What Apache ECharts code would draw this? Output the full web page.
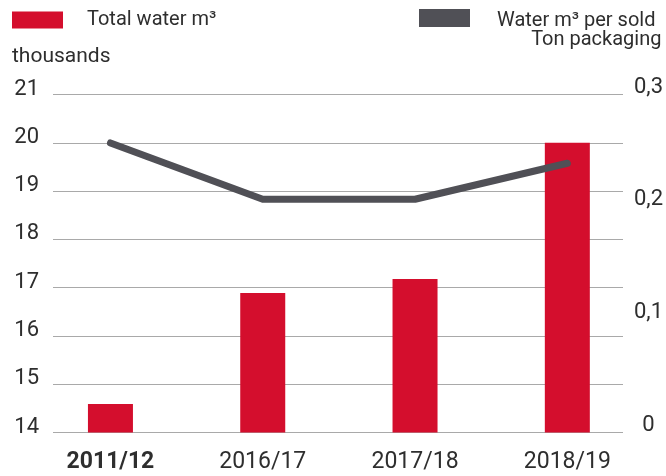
<!DOCTYPE html>
<html>
<head>
<meta charset="utf-8">
<script src="https://cdn.jsdelivr.net/npm/echarts@6/dist/echarts.min.js"></script>
<style>
html,body{margin:0;padding:0;background:#fff;}
#chart{width:666px;height:476px;}
</style>
</head>
<body>
<div id="chart"></div>
<script>
const categories = ['2011/12', '2016/17', '2017/18', '2018/19'];
const totalWater = [14.59, 16.89, 17.18, 20.0];
const waterPerTon = [0.257, 0.207, 0.207, 0.239];
const leftTicks = {min: 14, max: 21, interval: 1};
const rightTicks = {min: 0, max: 0.3, interval: 0.1};
const barName = 'Total water m³';
const lineName = 'Water m³ per sold Ton packaging';

const RED = '#d40e2d';
const GRAY = '#505056';
const TXT = '#2e2e2e';
const FONT = 'Roboto';

const chart = echarts.init(document.getElementById('chart'), null, {renderer: 'canvas'});
chart.setOption({
  animation: false,
  backgroundColor: '#fff',
  textStyle: {fontFamily: FONT, color: TXT},
  legend: [
    {
      data: [{name: barName, icon: 'rect'}],
      left: 12, top: 10, padding: 0,
      itemWidth: 51, itemHeight: 17,
      selectedMode: false,
      textStyle: {fontFamily: FONT, fontSize: 20, color: TXT, padding: [0, 0, 0, 19]}
    },
    {
      data: [{name: lineName, icon: 'rect', itemStyle: {color: GRAY}}],
      left: 419, top: 9, padding: 0,
      itemWidth: 51, itemHeight: 18,
      selectedMode: false,
      formatter: function () { return '{a|Water m³ per sold}\n{b|Ton packaging}'; },
      textStyle: {
        fontFamily: FONT, fontSize: 20, color: TXT, padding: [24, 0, 0, 22],
        rich: {
          a: {fontFamily: FONT, fontSize: 20, color: TXT, lineHeight: 19, align: 'right', padding: [0, 6, 0, 0]},
          b: {fontFamily: FONT, fontSize: 20, color: TXT, lineHeight: 19, align: 'right'}
        }
      }
    }
  ],
  graphic: [
    {type: 'text', left: 12, top: 46, style: {text: 'thousands', font: '21px Roboto', fill: TXT}}
  ],
  grid: [
    {left: 53, right: 43, top: 94.5, bottom: 43.5, containLabel: false},
    {left: 34.3, right: 22.3, top: 94.5, bottom: 43.5, containLabel: false}
  ],
  xAxis: [
    {type: 'category', gridIndex: 0, data: categories, show: false},
    {
      type: 'category', gridIndex: 1, data: categories,
      axisLine: {show: false}, axisTick: {show: false},
      axisLabel: {
        interval: 0, hideOverlap: false,
        margin: 18, fontFamily: FONT, fontSize: 23, color: TXT,
        formatter: function (v, i) { return i === 0 ? '{b|' + v + '}' : v; },
        rich: {b: {fontFamily: FONT, fontSize: 23, fontWeight: 'bold', color: TXT}}
      }
    }
  ],
  yAxis: [
    {
      type: 'value', gridIndex: 0, position: 'left',
      min: leftTicks.min, max: leftTicks.max, interval: leftTicks.interval,
      axisLine: {show: false}, axisTick: {show: false},
      splitLine: {show: true, lineStyle: {color: '#a9a9a9', width: 1.2}},
      axisLabel: {margin: 14, fontFamily: FONT, fontSize: 22, color: TXT, verticalAlign: 'bottom', lineHeight: 11}
    },
    {
      type: 'value', gridIndex: 1, position: 'left',
      min: leftTicks.min, max: leftTicks.max, interval: leftTicks.interval,
      show: false, splitLine: {show: false}
    },
    {
      type: 'value', gridIndex: 1, position: 'right',
      min: rightTicks.min, max: rightTicks.max, interval: rightTicks.interval,
      axisLine: {show: false}, axisTick: {show: false}, splitLine: {show: false},
      axisLabel: {
        margin: 5, align: 'center', fontFamily: FONT, fontSize: 22, color: TXT,
        verticalAlign: 'bottom', lineHeight: 15,
        formatter: function (v) { return v === 0 ? '0' : v.toFixed(1).replace('.', ','); }
      }
    }
  ],
  series: [
    {
      name: barName, type: 'bar', xAxisIndex: 1, yAxisIndex: 1,
      data: totalWater, barWidth: 45,
      itemStyle: {color: RED}
    },
    {
      name: lineName, type: 'line', xAxisIndex: 1, yAxisIndex: 2,
      data: waterPerTon, showSymbol: false, symbol: 'none',
      itemStyle: {color: GRAY},
      lineStyle: {color: GRAY, width: 7, cap: 'round', join: 'round'}
    }
  ]
});
</script>
</body>
</html>
